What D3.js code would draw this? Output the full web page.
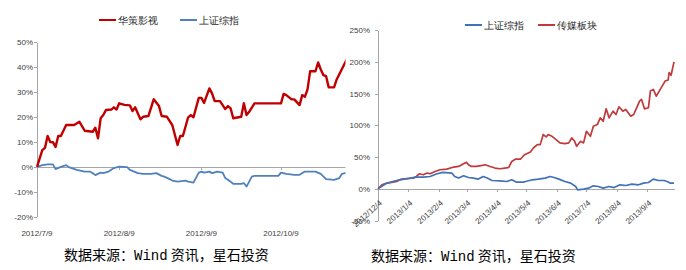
<!DOCTYPE html>
<html>
<head>
<meta charset="utf-8">
<script src="https://cdn.jsdelivr.net/npm/d3@7"></script>
<style>
    body { margin: 0; background: #ffffff; }
    svg text { font-family: "Liberation Sans", Arial, sans-serif; }
    .axis path, .axis line { stroke: #a6a6a6; shape-rendering: crispEdges; }
    .axis text { fill: #404040; font-size: 8px; }
    .cjk { font-family: "Noto Sans CJK SC", sans-serif; }
</style>
</head>
<body>
<div id="chart"></div>
<script>
// left panel: 华策影视 vs 上证综指, cumulative return %
const huace = [
    ["2012-07-09",0],["2012-07-11",6.7],["2012-07-12",7.6],["2012-07-13",12.4],["2012-07-14",10],["2012-07-15",9.9],
    ["2012-07-16",8],["2012-07-17",12.4],["2012-07-18",12.4],["2012-07-20",16.8],["2012-07-23",16.8],["2012-07-25",18.1],
    ["2012-07-27",14.5],["2012-07-30",14.1],["2012-07-31",15.7],["2012-08-01",11.5],["2012-08-02",19.5],["2012-08-03",20.8],
    ["2012-08-04",22.8],["2012-08-06",23],["2012-08-07",23.9],["2012-08-08",23],["2012-08-09",25.5],["2012-08-11",24.9],
    ["2012-08-13",24.7],["2012-08-14",22.4],["2012-08-15",23.9],["2012-08-17",19.1],["2012-08-18",20.1],["2012-08-20",20.4],
    ["2012-08-22",27.1],["2012-08-24",24.4],["2012-08-25",20.4],["2012-08-27",20.1],["2012-08-29",16.8],["2012-08-31",8.8],
    ["2012-09-01",12.4],["2012-09-02",12.4],["2012-09-04",19.9],["2012-09-05",20.8],["2012-09-06",19.9],["2012-09-08",27.7],
    ["2012-09-09",27.7],["2012-09-10",25.7],["2012-09-12",31.5],["2012-09-13",29.5],["2012-09-14",26.4],["2012-09-16",26.4],
    ["2012-09-18",23.2],["2012-09-19",24.4],["2012-09-20",23.5],["2012-09-21",19.5],["2012-09-24",20.1],["2012-09-25",25.5],
    ["2012-09-26",20.8],["2012-09-27",22.1],["2012-09-29",25.5],["2012-10-09",25.5],["2012-10-10",29.3],["2012-10-11",28.8],
    ["2012-10-13",27.1],["2012-10-14",27.1],["2012-10-16",24.8],["2012-10-17",28.8],["2012-10-18",28.1],["2012-10-19",31.1],
    ["2012-10-20",38.4],["2012-10-22",38.4],["2012-10-23",41.9],["2012-10-24",39.1],["2012-10-25",36.8],["2012-10-26",36.4],
    ["2012-10-27",31.9],["2012-10-29",31.9],["2012-10-30",35.1],["2012-11-03",43.6]
];
const shLeft = [
    ["2012-07-09",0],["2012-07-11",0.7],["2012-07-13",1],["2012-07-15",1],["2012-07-16",-0.9],["2012-07-18",0],
    ["2012-07-20",0.7],["2012-07-21",-0.1],["2012-07-24",-1.2],["2012-07-27",-1.9],["2012-07-29",-1.9],["2012-07-31",-3.3],
    ["2012-08-02",-2.3],["2012-08-03",-2.5],["2012-08-05",-1.9],["2012-08-07",-0.5],["2012-08-09",0.1],["2012-08-12",-0.1],
    ["2012-08-13",-1.2],["2012-08-16",-2.5],["2012-08-18",-2.8],["2012-08-21",-2.8],["2012-08-23",-2.5],["2012-08-25",-3.6],
    ["2012-08-26",-3.9],["2012-08-28",-4.9],["2012-08-29",-5.5],["2012-08-31",-5.9],["2012-09-03",-5.5],["2012-09-04",-5.9],
    ["2012-09-06",-6.3],["2012-09-08",-2.3],["2012-09-09",-1.9],["2012-09-10",-2.3],["2012-09-12",-1.9],["2012-09-13",-2.5],
    ["2012-09-15",-1.9],["2012-09-17",-2.3],["2012-09-18",-4.5],["2012-09-19",-5.2],["2012-09-21",-6.8],["2012-09-24",-6.8],
    ["2012-09-25",-6.5],["2012-09-26",-7.9],["2012-09-28",-3.9],["2012-09-29",-3.6],["2012-10-08",-3.6],["2012-10-09",-2.3],
    ["2012-10-11",-2.8],["2012-10-14",-3.2],["2012-10-16",-3.2],["2012-10-18",-1.9],["2012-10-22",-1.9],["2012-10-24",-2.8],
    ["2012-10-26",-4.9],["2012-10-29",-5.2],["2012-10-31",-4.5],["2012-11-01",-2.8],["2012-11-03",-2.3]
];
const leftTicks = ["2012-07-09", "2012-08-09", "2012-09-09", "2012-10-09"];
const leftTickLabels = ["2012/7/9", "2012/8/9", "2012/9/9", "2012/10/9"];
const leftYTicks = [-20, -10, 0, 10, 20, 30, 40, 50];

// right panel: 上证综指 vs 传媒板块
const media = [
    ["2012-12-04",0],["2012-12-08",6.2],["2012-12-13",8.9],["2012-12-18",9.8],["2012-12-23",11.4],["2012-12-28",15.2],
    ["2013-01-04",16.1],["2013-01-09",16.8],["2013-01-12",19.3],["2013-01-15",23.6],["2013-01-19",22],["2013-01-23",24.7],
    ["2013-01-26",23.6],["2013-01-31",27.2],["2013-02-05",29.9],["2013-02-12",31],["2013-02-19",34.2],["2013-02-24",35.1],
    ["2013-03-01",39.4],["2013-03-04",41.5],["2013-03-06",37.8],["2013-03-09",35.1],["2013-03-14",35.1],["2013-03-20",36.7],
    ["2013-03-23",37.8],["2013-03-28",35.1],["2013-04-02",32.6],["2013-04-07",31.5],["2013-04-12",32.6],["2013-04-16",33.5],
    ["2013-04-19",43],["2013-04-23",46.8],["2013-04-28",46.8],["2013-05-02",53.6],["2013-05-08",58],["2013-05-11",64.2],
    ["2013-05-15",69.5],["2013-05-18",69.5],["2013-05-21",85.3],["2013-05-24",81.6],["2013-05-26",85.3],["2013-05-30",82.6],
    ["2013-06-04",76.3],["2013-06-07",72.2],["2013-06-12",71],["2013-06-16",72.2],["2013-06-19",80.1],["2013-06-22",74.7],
    ["2013-06-24",66.8],["2013-06-28",74.7],["2013-07-01",72.2],["2013-07-04",90.5],["2013-07-08",82.6],["2013-07-11",98.4],
    ["2013-07-15",101.1],["2013-07-18",111.7],["2013-07-21",106.3],["2013-07-24",125.9],["2013-07-27",111.7],["2013-07-31",122.2],
    ["2013-08-03",116.9],["2013-08-06",129.1],["2013-08-10",122.2],["2013-08-13",124.8],["2013-08-18",114.2],["2013-08-21",116.9],
    ["2013-08-24",127.5],["2013-08-27",138],["2013-08-29",140.7],["2013-09-01",125.9],["2013-09-05",127.5],["2013-09-07",153.8],
    ["2013-09-10",156.5],["2013-09-13",145.9],["2013-09-17",156.5],["2013-09-20",164.4],["2013-09-22",169.6],["2013-09-25",171.2],
    ["2013-09-26",182.9],["2013-09-28",178.6],["2013-09-29",185.4],["2013-10-01",199.7]
];
const shRight = [
    ["2012-12-04",0],["2012-12-13",8.9],["2012-12-26",14.1],["2013-01-06",16.8],["2013-01-12",18.4],["2013-01-19",18.4],
    ["2013-01-26",19.3],["2013-02-02",23.6],["2013-02-08",25.7],["2013-02-17",24.7],["2013-02-20",19.3],["2013-02-24",16.8],
    ["2013-03-01",20.4],["2013-03-06",17.7],["2013-03-11",16.8],["2013-03-16",15.2],["2013-03-21",19.3],["2013-03-25",16.8],
    ["2013-03-30",13],["2013-04-07",12.5],["2013-04-14",11.4],["2013-04-19",14.1],["2013-04-24",10.4],["2013-05-01",10.4],
    ["2013-05-03",11.4],["2013-05-10",14.1],["2013-05-16",15.2],["2013-05-23",16.8],["2013-05-28",19.3],["2013-06-01",17.7],
    ["2013-06-06",15.2],["2013-06-12",11.4],["2013-06-18",8.9],["2013-06-23",3.5],["2013-06-25",-1.7],["2013-07-01",-0.6],
    ["2013-07-06",0.9],["2013-07-11",4.6],["2013-07-16",3.5],["2013-07-21",0.9],["2013-07-27",3.5],["2013-08-01",1.9],
    ["2013-08-07",6.2],["2013-08-13",5.1],["2013-08-19",7.3],["2013-08-26",6.2],["2013-08-31",8.9],["2013-09-05",9.8],
    ["2013-09-10",15.2],["2013-09-15",13],["2013-09-21",13],["2013-09-24",11.4],["2013-09-27",8.9],["2013-10-01",8.9]
];
const rightTicks = ["2012-12-04","2013-01-04","2013-02-04","2013-03-04","2013-04-04",
                    "2013-05-04","2013-06-04","2013-07-04","2013-08-04","2013-09-04"];
const rightYTicks = [-50, 0, 50, 100, 150, 200, 250];

const sourceText = ["数据来源：", "Wind", " 资讯，星石投资"];

const parse = d3.timeParse("%Y-%m-%d");
const fmtSlash = d3.timeFormat("%Y/%-m/%-d");

let svg = d3.select("#chart")
    .append("svg")
    .attr("width", 686)
    .attr("height", 270);

function drawLines(g, series, x, y) {
    let line = d3.line()
        .x(d => x(parse(d[0])))
        .y(d => y(d[1]));

    g.selectAll("path.series")
        .data(series)
        .enter()
        .append("path")
        .attr("class", "series")
        .attr("d", d => line(d.data))
        .attr("fill", "none")
        .attr("stroke", d => d.color)
        .attr("stroke-width", d => d.width)
        .attr("stroke-linejoin", "round");
}

function drawLegend(items, y) {
    let g = svg.append("g").attr("class", "cjk");
    items.forEach(function(it) {
        g.append("line")
            .attr("x1", it.x).attr("x2", it.x + 17)
            .attr("y1", y).attr("y2", y)
            .attr("stroke", it.color)
            .attr("stroke-width", 2);
        g.append("text")
            .attr("x", it.x + 19)
            .attr("y", y + 3.5)
            .attr("font-size", "10px")
            .attr("fill", "#262626")
            .text(it.name);
    });
}

function drawSource(x, y) {
    let t = svg.append("text")
        .attr("class", "cjk")
        .attr("x", x)
        .attr("y", y)
        .attr("font-size", "14px")
        .attr("fill", "#000");
    t.selectAll("tspan")
        .data(sourceText)
        .enter()
        .append("tspan")
        .style("font-family", (d, i) => i === 1 ? "'Liberation Mono', monospace" : null)
        .attr("xml:space", "preserve")
        .text(d => d);
}

// ---------- left panel ----------
let xL = d3.scaleTime()
    .domain([parse("2012-07-09"), parse("2012-11-03")])
    .range([37, 347.3]);
let yL = d3.scaleLinear()
    .domain([-20, 50])
    .range([216.7, 42.3]);

svg.append("defs").append("clipPath")
    .attr("id", "clipL")
    .append("rect")
    .attr("x", 0).attr("y", 0)
    .attr("width", 345.5).attr("height", 270);

svg.append("g")
    .attr("class", "axis")
    .attr("transform", "translate(37,0)")
    .call(d3.axisLeft(yL).tickValues(leftYTicks).tickSize(3).tickSizeOuter(0)
        .tickFormat(d => d + "%"))
    .call(g => g.selectAll("text").attr("x", -4));

svg.append("g")
    .attr("class", "axis")
    .attr("clip-path", "url(#clipL)")
    .attr("transform", `translate(0,${yL(0)})`)
    .call(d3.axisBottom(xL).tickValues(leftTicks.map(parse)).tickSize(3).tickSizeOuter(0)
        .tickFormat(""))
    .call(g => g.select(".domain").attr("stroke", "#bfbfbf"));

svg.append("g")
    .attr("class", "axis")
    .selectAll("text")
    .data(leftTicks)
    .enter()
    .append("text")
    .attr("x", d => xL(parse(d)))
    .attr("y", 236)
    .attr("text-anchor", "middle")
    .text((d, i) => leftTickLabels[i]);

drawLines(svg.append("g").attr("clip-path", "url(#clipL)"), [
    {data: shLeft, color: "#4f81bd", width: 1.8},
    {data: huace, color: "#c00000", width: 2.4}
], xL, yL);

drawLegend([
    {name: "华策影视", color: "#c00000", x: 99},
    {name: "上证综指", color: "#4f81bd", x: 180}
], 20);

drawSource(64, 260);

// ---------- right panel ----------
let xR = d3.scaleTime()
    .domain([parse("2012-12-04"), parse("2013-10-01")])
    .range([378, 674]);
let yR = d3.scaleLinear()
    .domain([-50, 250])
    .range([220.5, 30]);

svg.append("g")
    .attr("class", "axis")
    .attr("transform", "translate(378,0)")
    .call(d3.axisLeft(yR).tickValues(rightYTicks).tickSize(3).tickSizeOuter(0)
        .tickFormat(d => d + "%"))
    .call(g => g.selectAll("text").attr("x", -8));

svg.append("g")
    .attr("class", "axis")
    .attr("transform", `translate(0,${yR(0)})`)
    .call(d3.axisBottom(xR).tickValues(rightTicks.map(parse)).tickSize(3).tickSizeOuter(0)
        .tickFormat(fmtSlash))
    .call(g => g.select(".domain").attr("stroke", "#bfbfbf"))
    .call(g => g.selectAll("text")
        .attr("text-anchor", "end")
        .attr("x", 4)
        .attr("y", 15)
        .attr("dy", 0)
        .attr("transform", "rotate(-42,4,15)"));

drawLines(svg.append("g"), [
    {data: media, color: "#c0393b", width: 1.7},
    {data: shRight, color: "#3f72b8", width: 1.7}
], xR, yR);

drawLegend([
    {name: "上证综指", color: "#3f72b8", x: 465},
    {name: "传媒板块", color: "#c0393b", x: 538}
], 25);

drawSource(371, 261);
</script>
</body>
</html>
